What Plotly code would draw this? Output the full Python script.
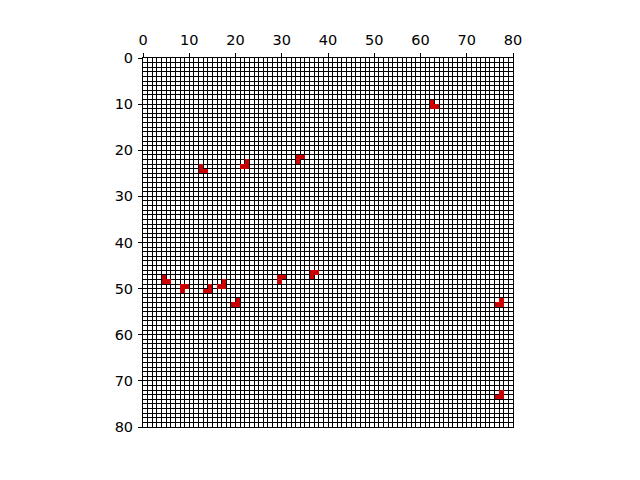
import numpy as np
import plotly.graph_objects as go

grid_size = 80
cell_cols = [62, 62, 63,
             12, 12, 13,
             22, 21, 22,
             33, 34, 33,
             4, 4, 5,
             8, 9, 8,
             14, 13, 14,
             17, 16, 17,
             20, 19, 20,
             29, 30, 29,
             36, 37, 36,
             77, 76, 77,
             77, 76, 77]
cell_rows = [9, 10, 10,
             23, 24, 24,
             22, 23, 23,
             21, 21, 22,
             47, 48, 48,
             49, 49, 50,
             49, 50, 50,
             48, 49, 49,
             52, 53, 53,
             47, 47, 48,
             46, 46, 47,
             52, 53, 53,
             72, 73, 73]
tick_vals = [0, 10, 20, 30, 40, 50, 60, 70, 80]

z = np.full((grid_size, grid_size), np.nan)
for c, r in zip(cell_cols, cell_rows):
    z[r, c] = 1.0

centers = np.arange(grid_size) + 0.5

fig = go.Figure(go.Heatmap(
    x=centers, y=centers, z=z,
    colorscale=[[0, '#cc0000'], [1, '#cc0000']],
    showscale=False, zmin=0, zmax=1, hoverinfo='skip'))

font = dict(family='DejaVu Sans', size=14.5, color='black')
axis_common = dict(
    range=[0, 80], tickvals=tick_vals, ticks='outside', ticklen=4, tickwidth=1,
    tickcolor='black', showline=True, linecolor='black', linewidth=1, mirror=True,
    showgrid=True, gridcolor='black', gridwidth=1, zeroline=False, tickfont=font,
    automargin=False, ticklabelstandoff=2,
    minor=dict(dtick=1, tick0=0, showgrid=True, gridcolor='black', gridwidth=1, ticks=''),
)
fig.update_layout(
    width=640, height=480,
    margin=dict(l=135, r=135, t=50, b=61, pad=0),
    plot_bgcolor='white', paper_bgcolor='white',
    xaxis=dict(side='top', **axis_common),
    yaxis=dict(autorange=False, **{**axis_common, 'range': [80, 0]}),
)
fig.write_html("out.html")
